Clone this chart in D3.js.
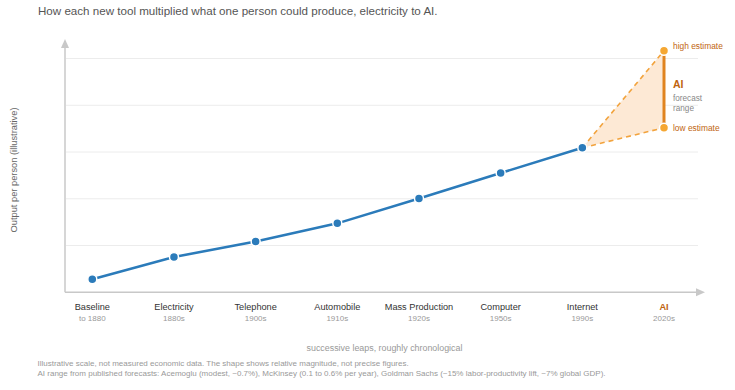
<!DOCTYPE html>
<html><head><meta charset="utf-8">
<script src="https://cdn.jsdelivr.net/npm/d3@7/dist/d3.min.js"></script>
<style>
html,body{margin:0;padding:0;background:#fff;}
svg{display:block;font-family:"Liberation Sans",Arial,Helvetica,sans-serif;font-variant-ligatures:none;}
</style></head>
<body><svg id="c" width="735" height="390"></svg>
<script>
const categories = ["Baseline","Electricity","Telephone","Automobile","Mass Production","Computer","Internet","AI"];
const eras = ["to 1880","1880s","1900s","1910s","1920s","1950s","1990s","2020s"];
const historic = [5.6, 15.1, 21.7, 29.5, 40.1, 51, 61.8];
const aiHigh = 103.3;
const aiLow = 70.4;
const gridTicks = [20, 40, 60, 80, 100];

const svg = d3.select("#c");
const x = d3.scalePoint().domain(categories).range([92.3, 664]);
const y = d3.scaleLinear().domain([0, 100]).range([292.3, 58.5]);

const axisColor = "#c8c8c8";
// title
svg.append("text").attr("x", 38).attr("y", 15).attr("font-size", 11.6).attr("fill", "#555")
  .text("How each new tool multiplied what one person could produce, electricity to AI.");

// gridlines
svg.append("g").selectAll("line").data(gridTicks).join("line")
  .attr("x1", 66).attr("x2", 698).attr("y1", d => y(d)).attr("y2", d => y(d))
  .attr("stroke", "#ececec").attr("stroke-width", 1);

// axes with arrows
svg.append("line").attr("x1", 65).attr("x2", 65).attr("y1", y(0)).attr("y2", 44)
  .attr("stroke", axisColor).attr("stroke-width", 1.5);
svg.append("path").attr("d", "M65,39 L61,48 L69,48 Z").attr("fill", axisColor);
svg.append("line").attr("x1", 65).attr("x2", 699).attr("y1", y(0)).attr("y2", y(0))
  .attr("stroke", axisColor).attr("stroke-width", 1.5);
svg.append("path").attr("d", `M705,${y(0)} L696,${y(0)-4} L696,${y(0)+4} Z`).attr("fill", axisColor);

// category labels
const xl = svg.append("g");
xl.selectAll("text.cat").data(categories).join("text").attr("class","cat")
  .attr("x", d => x(d)).attr("y", 309.5).attr("text-anchor", "middle")
  .attr("font-size", 9.2)
  .attr("fill", d => d === "AI" ? "#c0640f" : "#333")
  .attr("font-weight", d => d === "AI" ? "bold" : "normal")
  .text(d => d);
xl.selectAll("text.era").data(categories).join("text").attr("class","era")
  .attr("x", d => x(d)).attr("y", 320.5).attr("text-anchor", "middle")
  .attr("font-size", 8).attr("fill", "#999")
  .text((d, i) => eras[i]);

// axis titles
svg.append("text").attr("x", 384.5).attr("y", 350.5).attr("text-anchor", "middle")
  .attr("font-size", 8.9).attr("fill", "#999").text("successive leaps, roughly chronological");
svg.append("text").attr("transform", "translate(17,170) rotate(-90)").attr("text-anchor", "middle")
  .attr("font-size", 9.3).attr("fill", "#666").text("Output per person (illustrative)");

// footnotes
svg.append("text").attr("x", 37.5).attr("y", 365.5).attr("font-size", 8).attr("fill", "#999")
  .text("Illustrative scale, not measured economic data. The shape shows relative magnitude, not precise figures.");
svg.append("text").attr("x", 37.5).attr("y", 376).attr("font-size", 8).attr("fill", "#999")
  .text("AI range from published forecasts: Acemoglu (modest, ~0.7%), McKinsey (0.1 to 0.6% per year), Goldman Sachs (~15% labor-productivity lift, ~7% global GDP).");

// AI forecast cone
const last = categories[historic.length - 1];
const xa = x("AI"), xi = x(last), yi = y(historic[historic.length - 1]);
svg.append("path").attr("d", `M${xi},${yi} L${xa},${y(aiHigh)} L${xa},${y(aiLow)} Z`)
  .attr("fill", "#fde9d5");
[aiHigh, aiLow].forEach(v => {
  svg.append("line").attr("x1", xi).attr("y1", yi).attr("x2", xa).attr("y2", y(v))
    .attr("stroke", "#f2a33d").attr("stroke-width", 1.6).attr("stroke-dasharray", "5,4");
});
svg.append("line").attr("x1", xa).attr("x2", xa).attr("y1", y(aiHigh)).attr("y2", y(aiLow))
  .attr("stroke", "#e08420").attr("stroke-width", 3);

// historic line
const pts = historic.map((v, i) => [x(categories[i]), y(v)]);
svg.append("path").attr("d", d3.line()(pts)).attr("fill", "none")
  .attr("stroke", "#2b7bba").attr("stroke-width", 2.5);
svg.append("g").selectAll("circle").data(pts).join("circle")
  .attr("cx", d => d[0]).attr("cy", d => d[1]).attr("r", 4.5)
  .attr("fill", "#2b7bba").attr("stroke", "#fff").attr("stroke-width", 1.5);

// AI points
svg.append("g").selectAll("circle").data([aiHigh, aiLow]).join("circle")
  .attr("cx", xa).attr("cy", d => y(d)).attr("r", 4.5)
  .attr("fill", "#f5a733").attr("stroke", "#fff").attr("stroke-width", 1.5);

// annotations
svg.append("text").attr("x", 673).attr("y", y(aiHigh) - 2).attr("font-size", 8.4).attr("fill", "#c0640f").text("high estimate");
svg.append("text").attr("x", 673).attr("y", y(aiLow) + 3.5).attr("font-size", 8.4).attr("fill", "#c0640f").text("low estimate");
svg.append("text").attr("x", 673).attr("y", 88).attr("font-size", 10.5).attr("font-weight", "bold").attr("fill", "#c0640f").text("AI");
svg.append("text").attr("x", 673).attr("y", 101).attr("font-size", 8.2).attr("fill", "#888").text("forecast");
svg.append("text").attr("x", 673).attr("y", 111).attr("font-size", 8.2).attr("fill", "#888").text("range");
</script></body></html>
